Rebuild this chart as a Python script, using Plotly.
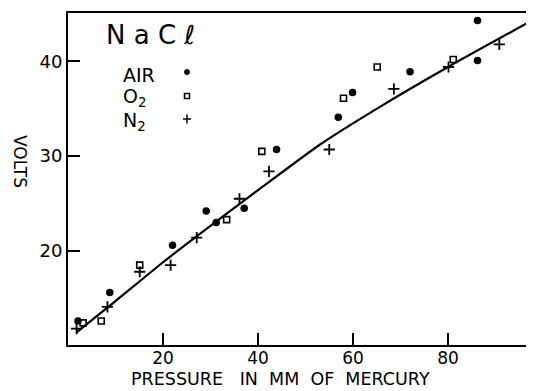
import plotly.graph_objects as go

# ---- data ----
air_x = [2.1, 8.8, 22.0, 29.1, 31.2, 37.1, 43.9, 56.9, 59.9, 72.0, 86.2, 86.2]
air_y = [12.6, 15.6, 20.6, 24.2, 23.0, 24.5, 30.7, 34.1, 36.7, 38.9, 44.3, 40.1]

o2_x = [3.2, 7.0, 15.1, 33.4, 40.8, 58.0, 65.1, 81.1]
o2_y = [12.4, 12.6, 18.5, 23.3, 30.5, 36.1, 39.4, 40.2]

n2_x = [1.8, 8.3, 15.1, 21.6, 27.1, 36.1, 42.3, 55.0, 68.6, 80.1, 90.8]
n2_y = [11.8, 14.1, 17.8, 18.5, 21.4, 25.5, 28.4, 30.7, 37.1, 39.4, 41.8]

fit_x = [1.8, 10, 20, 27, 40, 53, 66, 80, 98]
fit_y = [11.4, 14.7, 18.8, 21.5, 26.4, 31.2, 35.3, 39.4, 44.4]

x_ticks = [20, 40, 60, 80]
y_ticks = [20, 30, 40]

# ---- layout geometry (pixels) ----
# the page body has an 8px default margin, so the figure is offset by 8px
OFF = 8
W, H = 534 - OFF, 391 - OFF
L, R, T = 68 - OFF, 0, 13 - OFF
B = H - (345 - OFF)
PW, PH = W - L - R, H - T - B


def paper(px, py):
    """screenshot pixel -> paper coordinates"""
    px -= OFF
    py -= OFF
    return (px - L) / PW, (H - B - py) / PH


FONT = "DejaVu Sans"
fig = go.Figure()

fig.add_trace(go.Scatter(x=fit_x, y=fit_y, mode="lines",
                         line=dict(color="black", width=2.2, shape="spline", smoothing=0.6),
                         hoverinfo="skip", showlegend=False))
fig.add_trace(go.Scatter(x=air_x, y=air_y, mode="markers", name="AIR",
                         marker=dict(symbol="circle", size=7.5, color="black"),
                         showlegend=False))
fig.add_trace(go.Scatter(x=o2_x, y=o2_y, mode="markers", name="O2",
                         marker=dict(symbol="square-open", size=6, color="black",
                                     line=dict(width=1.6, color="black")),
                         showlegend=False))
fig.add_trace(go.Scatter(x=n2_x, y=n2_y, mode="markers", name="N2",
                         marker=dict(symbol="cross-thin", size=8, color="black",
                                     line=dict(width=1.8, color="black")),
                         showlegend=False))

annotations = []
shapes = []

# title NaCl
x0, y0 = paper(104, 35)
annotations.append(dict(x=x0, y=y0, xref="paper", yref="paper", xanchor="left", yanchor="middle",
                        text="N a C ℓ", showarrow=False,
                        font=dict(family=FONT, size=26, color="black")))

# legend texts
for label, py in [("AIR", 75), ("O<sub>2</sub>", 98), ("N<sub>2</sub>", 121)]:
    ax, ay = paper(121, py)
    annotations.append(dict(x=ax, y=ay, xref="paper", yref="paper", xanchor="left", yanchor="middle",
                            text=label, showarrow=False,
                            font=dict(family=FONT, size=19, color="black")))

# legend keys
kx, ky = paper(187, 72)
shapes.append(dict(type="circle", xref="paper", yref="paper", xsizemode="pixel", ysizemode="pixel",
                   xanchor=kx, yanchor=ky, x0=-2.5, x1=2.5, y0=-2.5, y1=2.5,
                   fillcolor="black", line=dict(color="black", width=1)))
kx, ky = paper(187, 96)
shapes.append(dict(type="rect", xref="paper", yref="paper", xsizemode="pixel", ysizemode="pixel",
                   xanchor=kx, yanchor=ky, x0=-2.5, x1=2.5, y0=-2.5, y1=2.5,
                   line=dict(color="black", width=1.5)))
kx, ky = paper(187, 119)
shapes.append(dict(type="line", xref="paper", yref="paper", xsizemode="pixel", ysizemode="pixel",
                   xanchor=kx, yanchor=ky, x0=-4, x1=4, y0=0, y1=0,
                   line=dict(color="black", width=1.5)))
shapes.append(dict(type="line", xref="paper", yref="paper", xsizemode="pixel", ysizemode="pixel",
                   xanchor=kx, yanchor=ky, x0=0, x1=0, y0=-4.5, y1=4.5,
                   line=dict(color="black", width=1.5)))

# axis titles
ax, ay = paper(280, 391)
annotations.append(dict(x=ax, y=ay, xref="paper", yref="paper", xanchor="center", yanchor="bottom",
                        text="PRESSURE   IN  MM  OF  MERCURY", showarrow=False,
                        font=dict(family=FONT, size=17.5, color="black")))
ax, ay = paper(20, 161)
annotations.append(dict(x=ax, y=ay, xref="paper", yref="paper", xanchor="center", yanchor="middle",
                        text="VOLTS", textangle=90, showarrow=False,
                        font=dict(family=FONT, size=17, color="black")))

fig.update_layout(
    width=W, height=H,
    margin=dict(l=L, r=R, t=T, b=B, pad=0),
    paper_bgcolor="white", plot_bgcolor="white",
    showlegend=False,
    annotations=annotations,
    shapes=shapes,
    xaxis=dict(range=[0, 98.1], tickvals=x_ticks, ticktext=[str(v) for v in x_ticks],
               showgrid=False, zeroline=False,
               showline=True, linecolor="black", linewidth=2, mirror=True,
               ticks="inside", ticklen=12, tickwidth=2, tickcolor="black",
               ticklabelstandoff=-3,
               tickfont=dict(family=FONT, size=17, color="black")),
    yaxis=dict(range=[10.07, 45.1], tickvals=y_ticks, ticktext=[str(v) for v in y_ticks],
               showgrid=False, zeroline=False,
               showline=True, linecolor="black", linewidth=2, mirror=False,
               ticks="inside", ticklen=12, tickwidth=2, tickcolor="black",
               tickfont=dict(family=FONT, size=18, color="black")),
)

fig.write_html("out.html")
